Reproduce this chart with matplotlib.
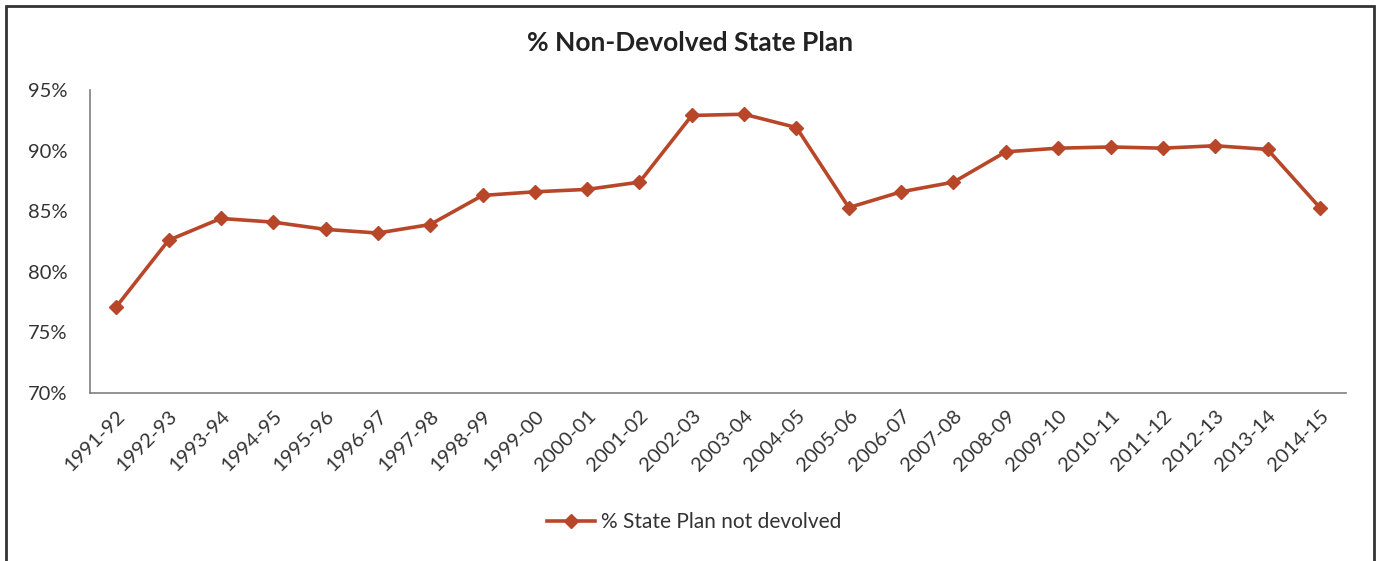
import matplotlib
matplotlib.use("Agg")
import matplotlib.pyplot as plt
from matplotlib.patches import Rectangle
from matplotlib.ticker import FuncFormatter

years = ["1991-92", "1992-93", "1993-94", "1994-95", "1995-96", "1996-97", "1997-98",
         "1998-99", "1999-00", "2000-01", "2001-02", "2002-03", "2003-04", "2004-05",
         "2005-06", "2006-07", "2007-08", "2008-09", "2009-10", "2010-11", "2011-12",
         "2012-13", "2013-14", "2014-15"]
pct_not_devolved = [77.1, 82.6, 84.4, 84.1, 83.5, 83.2, 83.9, 86.3, 86.6, 86.8, 87.4,
                    92.9, 93.0, 91.9, 85.3, 86.6, 87.4, 89.9, 90.2, 90.3, 90.2, 90.4,
                    90.1, 85.3]
yticks = [70, 75, 80, 85, 90, 95]

plt.rcParams['font.family'] = ['Lato', 'DejaVu Sans']
color = "#B8472A"
text_color = "#333333"

fig = plt.figure(figsize=(13.82, 5.61), dpi=100)
# outer frame
fig.patches.append(Rectangle((6/1382, -0.01), (1374-6)/1382, (561-6)/561 + 0.01,
                             transform=fig.transFigure, fill=False,
                             edgecolor="#333333", linewidth=2))

ax = fig.add_axes([90/1382, (561-393)/561, (1346-90)/1382, (393-90)/561])
x = list(range(len(years)))
ax.plot(x, pct_not_devolved, color=color, linewidth=2.6, marker="D", markersize=7,
        label="% State Plan not devolved")
ax.set_xlim(-0.5, len(years) - 0.5)
ax.set_ylim(70, 95)
ax.set_yticks(yticks)
ax.yaxis.set_major_formatter(FuncFormatter(lambda v, p: f"{int(v)}%"))
ax.set_xticks(x)
ax.set_xticklabels(years, rotation=45, ha="right", rotation_mode="anchor")
ax.tick_params(axis="both", length=0, labelsize=14.5, colors=text_color)
ax.tick_params(axis="x", pad=10)
ax.tick_params(axis="y", pad=16)
for s in ["top", "right"]:
    ax.spines[s].set_visible(False)
for s in ["left", "bottom"]:
    ax.spines[s].set_color("#7f7f7f")
    ax.spines[s].set_linewidth(1.2)

fig.text(690/1382, 1 - 43/561, "% Non-Devolved State Plan", ha="center", va="center",
         fontsize=19, fontweight="bold", color="#222222")

handles, labels = ax.get_legend_handles_labels()
fig.legend(handles, labels, loc="center", bbox_to_anchor=(694/1382, 1 - 522/561),
           frameon=False, fontsize=15, handlelength=2.3, handletextpad=0.3,
           labelcolor=text_color)

fig.savefig("out.png", dpi=100)
